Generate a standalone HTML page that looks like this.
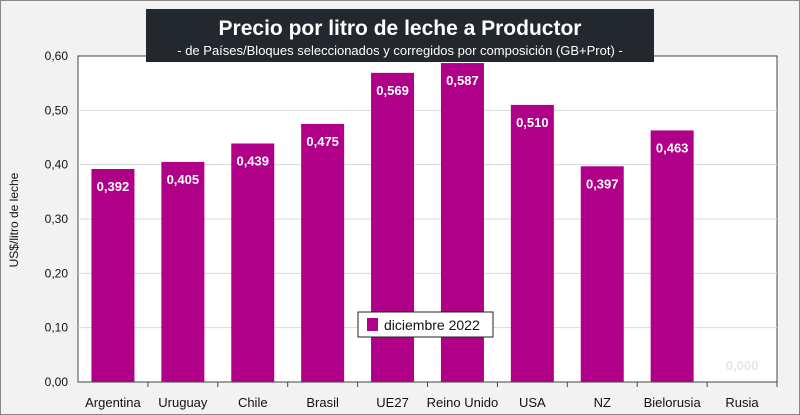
<!DOCTYPE html>
<html><head><meta charset="utf-8"><style>
body{margin:0;width:800px;height:415px;overflow:hidden;background:#f2f2f2;font-family:"Liberation Sans",sans-serif}
</style></head><body>
<svg width="800" height="415" style="position:absolute;left:0;top:0">
<rect x="0.5" y="0.5" width="799" height="414" fill="#f2f2f2" stroke="#888"/>
<rect x="78" y="56" width="699" height="326" fill="#fff" stroke="#444" stroke-width="1"/>
<g id="grid"></g><g id="bars"></g><g id="labels"></g>
<text x="18" y="220" transform="rotate(-90 18 220)" text-anchor="middle" font-size="12" fill="#111">US$/litro de leche</text>
<rect x="146" y="9" width="508" height="53" fill="#23282e"/>
<text x="400" y="35" text-anchor="middle" font-size="21" font-weight="bold" fill="#fff">Precio por litro de leche a Productor</text>
<text x="400" y="55" text-anchor="middle" font-size="13" fill="#fff">-  de Países/Bloques seleccionados y corregidos por composición (GB+Prot) -</text>
<g>
<rect x="358" y="312" width="135" height="25" fill="#fff" stroke="#222"/>
<rect x="367" y="318" width="11" height="13" fill="#b0008a"/>
<text x="384" y="330" font-size="14" fill="#111">diciembre 2022</text>
</g>
</svg>
<script>
const categories=["Argentina","Uruguay","Chile","Brasil","UE27","Reino Unido","USA","NZ","Bielorusia","Rusia"];
const values=[0.392,0.405,0.439,0.475,0.569,0.587,0.510,0.397,0.463,0.000];
const yTicks=[0,0.1,0.2,0.3,0.4,0.5,0.6];
const yTickLabels=["0,00","0,10","0,20","0,30","0,40","0,50","0,60"];
const NS="http://www.w3.org/2000/svg";
const L=78,R=777,T=56,B=382,yMax=0.6;
const y=v=>B-(v/yMax)*(B-T);
const bw=(R-L)/categories.length;
const x=i=>L+bw*i+bw/2;
function mk(tag,attrs,parent,txt){const e=document.createElementNS(NS,tag);for(const k in attrs)e.setAttribute(k,attrs[k]);if(txt!==undefined)e.textContent=txt;document.getElementById(parent).appendChild(e);return e;}
yTicks.forEach((t,i)=>{
 if(t>0&&t<yMax){const g=mk('line',{x1:L,x2:R,y1:y(t),y2:y(t),stroke:'#d9d9d9'},'grid');
 
 }
 const tl=mk('text',{x:68,y:y(t)+4,'text-anchor':'end','font-size':12,fill:'#111'},'labels',yTickLabels[i]);
 
 
});
categories.forEach((c,i)=>{
 const tk=mk('line',{x1:L+bw*(i+1),x2:L+bw*(i+1),y1:B,y2:B+5,stroke:'#444'},'grid');
 
 
 const v=values[i];
 const b=mk('rect',{x:x(i)-21.5,y:y(v),width:43,height:B-y(v),fill:'#b0008a'},'bars');
 
 
 const vl=mk('text',{x:x(i),y:v>0?y(v)+22:B-12,'text-anchor':'middle','font-size':13,'font-weight':'bold',fill:v>0?'#fff':'#e6e6e6'},'labels',v.toFixed(3).replace('.',','));
 
 
 const xl=mk('text',{x:x(i),y:407,'text-anchor':'middle','font-size':13,fill:'#111'},'labels',c);
 
 
});
</script>
</body></html>
